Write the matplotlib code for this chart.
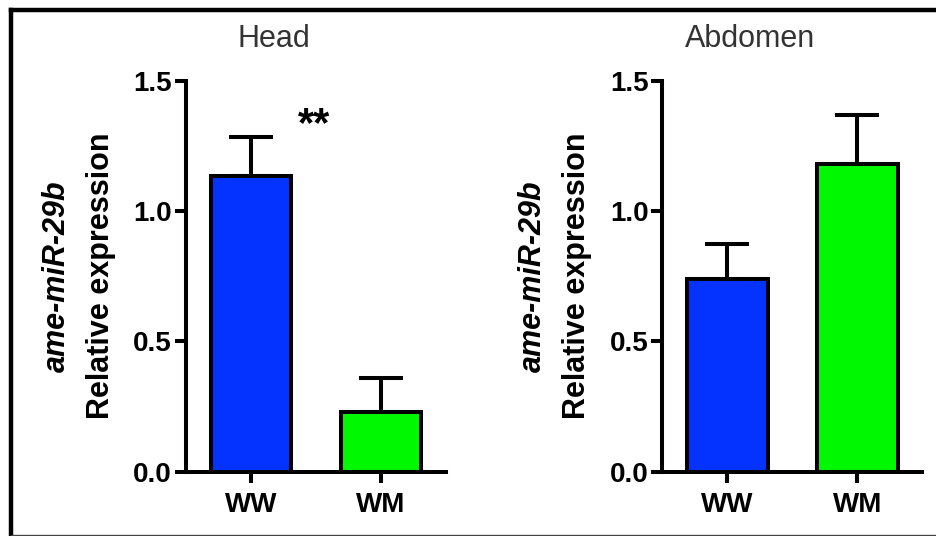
import matplotlib
matplotlib.use("Agg")
import matplotlib.pyplot as plt
from matplotlib.lines import Line2D

plt.rcParams['font.family'] = ['Liberation Sans', 'DejaVu Sans']

groups = ["WW", "WM"]
head_mean = [1.133, 0.229]
head_err = [0.149, 0.129]
abd_mean = [0.739, 1.182]
abd_err = [0.133, 0.188]
colors = ["#0433FF", "#00F900"]
yticks = [0.0, 0.5, 1.0, 1.5]
ytick_labels = ["0.0", "0.5", "1.0", "1.5"]
titles = ["Head", "Abdomen"]
ylabel_gene = "ame-miR-29b"
ylabel_text = "Relative expression"
sig_head = "**"

W, H = 937, 536
fig = plt.figure(figsize=(W / 100, H / 100), dpi=100)

def fx(x):
    return x / W

def fy(y):
    return 1 - y / H

LW = 2.9

def make_panel(left_px, means, errs, title, title_x):
    ax = fig.add_axes([fx(left_px), fy(471.5), 260 / W, (471.5 - 80.7) / H])
    x = list(range(len(groups)))
    ax.bar(x, means, width=0.62, color=colors, edgecolor="black", linewidth=LW, zorder=2)
    ax.errorbar(x, means, yerr=[[0] * len(errs), errs], fmt="none", ecolor="black",
                elinewidth=LW, capsize=16, capthick=LW, zorder=3)
    ax.set_xlim(-0.5, 1.5)
    ax.set_ylim(0, 1.5)
    ax.set_yticks(yticks)
    ax.set_yticklabels(ytick_labels, fontsize=20, fontweight="bold")
    ax.set_xticks(x)
    ax.set_xticklabels(groups, fontsize=20, fontweight="bold")
    for s in ["top", "right"]:
        ax.spines[s].set_visible(False)
    for s in ["left", "bottom"]:
        ax.spines[s].set_linewidth(LW)
    ax.tick_params(axis="both", width=LW, length=8, color="black")
    ax.tick_params(axis="y", pad=2)
    ax.tick_params(axis="x", pad=7)
    fig.text(fx(title_x), fy(46.7), title, fontsize=22, color="#333333",
             ha="center", va="baseline")
    ycen = fy((471.5 + 80.7) / 2)
    fig.text(fx(left_px - 121), ycen, ylabel_gene, fontsize=22, fontweight="bold",
             fontstyle="italic", rotation=90, rotation_mode="anchor",
             ha="center", va="baseline")
    fig.text(fx(left_px - 77), ycen, ylabel_text, fontsize=22, fontweight="bold",
             rotation=90, rotation_mode="anchor", ha="center", va="baseline")
    return ax

ax1 = make_panel(186, head_mean, head_err, titles[0], 274)
ax2 = make_panel(662.3, abd_mean, abd_err, titles[1], 750)

fig.text(fx(314.5), fy(136), sig_head, fontsize=30, fontweight="bold",
         ha="center", va="baseline")

# figure frame (left and top thick, bottom thin)
fig.add_artist(Line2D([fx(11.5), fx(11.5)], [fy(9.5), fy(536)], transform=fig.transFigure,
                      color="black", linewidth=3.2, solid_capstyle="projecting"))
fig.add_artist(Line2D([fx(11.5), fx(937)], [fy(9.5), fy(9.5)], transform=fig.transFigure,
                      color="black", linewidth=3.2, solid_capstyle="projecting"))
fig.add_artist(Line2D([fx(11.5), fx(937)], [fy(534.5), fy(534.5)], transform=fig.transFigure,
                      color="#444444", linewidth=1.0))

fig.savefig("out.png", dpi=100)
